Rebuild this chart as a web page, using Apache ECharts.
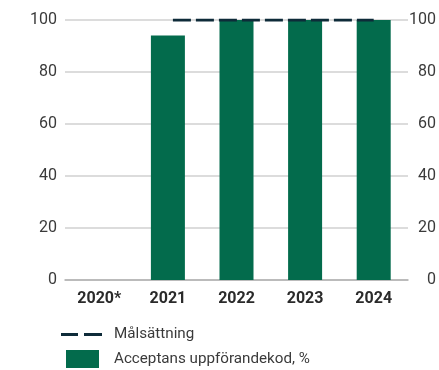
<!DOCTYPE html>
<html>
<head>
<meta charset="utf-8">
<style>
  html, body { margin: 0; padding: 0; background: #fff; }
  #chart { width: 439px; height: 370px; }
</style>
<script src="https://cdn.jsdelivr.net/npm/echarts@6/dist/echarts.min.js"></script>
</head>
<body>
<div id="chart"></div>
<script>
// Years on the category axis
const years = ['2020*', '2021', '2022', '2023', '2024'];
// Share of employees accepting the code of conduct, %
const acceptance = [null, 94, 100, 100, 100];
// Target level
const target = [null, 100, 100, 100, 100];
// Value axis ticks
const yTicks = [0, 20, 40, 60, 80, 100];

const targetName = 'Målsättning';
const barName = 'Acceptans uppförandekod, %';

const green = '#036b4c';
const navy = '#0e2b39';
const textColor = '#3a3a3a';
const font = 'Roboto';

const chart = echarts.init(document.getElementById('chart'), null, { renderer: 'canvas' });

const yAxisBase = {
  type: 'value',
  min: yTicks[0],
  max: yTicks[yTicks.length - 1],
  interval: yTicks[1] - yTicks[0],
  axisLine: { show: false },
  axisTick: { show: false },
  splitLine: { show: true, lineStyle: { color: '#d0d0d0', width: 1.5 } },
  axisLabel: { color: textColor, fontFamily: font, fontSize: 16, align: 'right' }
};

chart.setOption({
  animation: false,
  grid: { left: 65, right: 31, top: 20, bottom: 90 },
  xAxis: {
    type: 'category',
    data: years,
    axisLine: { show: true, lineStyle: { color: '#b0b0b0', width: 1.5 } },
    axisTick: { show: false },
    axisLabel: { color: '#2a2a2a', fontFamily: font, fontSize: 16, fontWeight: 'bold', margin: 11 }
  },
  yAxis: [
    Object.assign({}, yAxisBase, { position: 'left', axisLabel: Object.assign({}, yAxisBase.axisLabel, { margin: 8 }) }),
    Object.assign({}, yAxisBase, { position: 'right', splitLine: { show: false }, axisLabel: Object.assign({}, yAxisBase.axisLabel, { margin: 28 }) })
  ],
  legend: [
    {
      data: [{ name: targetName, icon: 'path://M0,0H17V3H0Z M23,0H41V3H23Z' }],
      left: 56, top: 322,
      itemWidth: 41, itemHeight: 3,
      selectedMode: false,
      textStyle: { color: textColor, fontFamily: font, fontSize: 15.2, padding: [0, 0, 0, 7] }
    },
    {
      data: [{ name: barName, icon: 'rect' }],
      left: 61, top: 345,
      itemWidth: 33, itemHeight: 18,
      selectedMode: false,
      textStyle: { color: textColor, fontFamily: font, fontSize: 15.2, padding: [0, 0, 0, 10] }
    }
  ],
  series: [
    {
      name: barName,
      type: 'bar',
      data: acceptance,
      barWidth: 34,
      itemStyle: { color: green },
      z: 2
    },
    {
      name: targetName,
      type: 'line',
      data: target,
      symbol: 'none',
      color: navy,
      lineStyle: { color: navy, width: 3, type: [18, 5], dashOffset: 18 },
      z: 5
    }
  ]
});
</script>
</body>
</html>
